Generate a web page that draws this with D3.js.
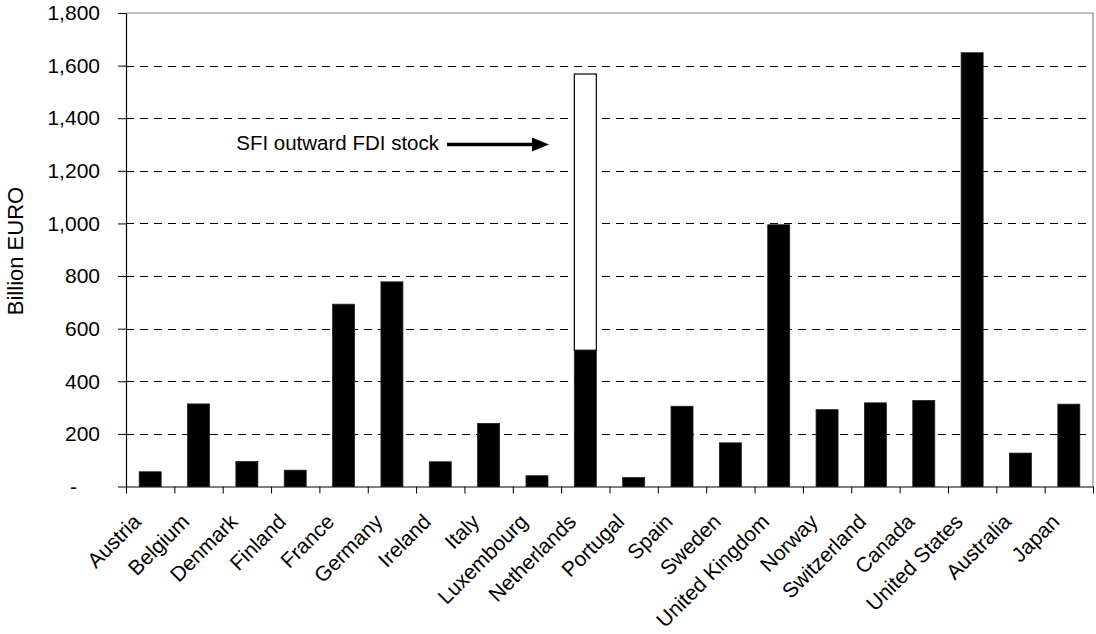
<!DOCTYPE html>
<html>
<head>
<meta charset="utf-8">
<script src="https://cdn.jsdelivr.net/npm/d3@7"></script>
<style>
  html, body { margin: 0; padding: 0; background: #fff; }
  svg { display: block; font-family: "Liberation Sans", Arial, sans-serif; }
</style>
</head>
<body>
<svg id="chart" width="1096" height="634"></svg>
<script>
// ---- Data (Billion EURO) ----
const categories = ["Austria","Belgium","Denmark","Finland","France","Germany","Ireland","Italy","Luxembourg","Netherlands","Portugal","Spain","Sweden","United Kingdom","Norway","Switzerland","Canada","United States","Australia","Japan"];
const outwardFDI = [56, 314, 95, 62, 693, 778, 94, 240, 41, 518, 34, 305, 166, 995, 292, 318, 327, 1649, 127, 313];
const sfiOutwardFDI = [0, 0, 0, 0, 0, 0, 0, 0, 0, 1050, 0, 0, 0, 0, 0, 0, 0, 0, 0, 0];
const yTicks = [0, 200, 400, 600, 800, 1000, 1200, 1400, 1600, 1800];
const yTitle = "Billion EURO";
const annotationText = "SFI outward FDI stock";

// ---- Layout ----
const pLeft = 126, pRight = 1093, pTop = 13, pBottom = 486.5;
const svg = d3.select("#chart");

const x = d3.scaleBand().domain(categories).range([pLeft, pRight]).paddingInner(0.545).paddingOuter(0.2725);
const xBound = d3.scaleLinear().domain([0, categories.length]).range([pLeft, pRight]);
const y = d3.scaleLinear().domain([0, 1800]).range([pBottom, pTop]);

// frame (top & right)
svg.append("path")
  .attr("d", `M${pLeft},${pTop}H${pRight}V${pBottom}`)
  .attr("fill", "none").attr("stroke", "#888").attr("stroke-width", 1.2);

// gridlines
svg.append("g").selectAll("line").data(yTicks.filter(d => d > 0 && d < 1800)).join("line")
  .attr("x1", pLeft).attr("x2", pRight - 6)
  .attr("y1", d => Math.round(y(d)) + 0.5).attr("y2", d => Math.round(y(d)) + 0.5)
  .attr("stroke", "#000").attr("stroke-width", 1).attr("stroke-dasharray", "8,6");

// bars - outward FDI (black)
svg.append("g").selectAll("rect").data(categories).join("rect")
  .attr("x", d => x(d)).attr("width", x.bandwidth())
  .attr("y", (d, i) => y(outwardFDI[i]))
  .attr("height", (d, i) => y(0) - y(outwardFDI[i]))
  .attr("fill", "#000").attr("stroke", "#222").attr("stroke-width", 0.8);

// bars - SFI outward FDI (white, stacked)
svg.append("g").selectAll("rect").data(categories.filter((d, i) => sfiOutwardFDI[i] > 0)).join("rect")
  .attr("x", d => x(d)).attr("width", x.bandwidth())
  .attr("y", d => { const i = categories.indexOf(d); return y(outwardFDI[i] + sfiOutwardFDI[i]); })
  .attr("height", d => { const i = categories.indexOf(d); return y(outwardFDI[i]) - y(outwardFDI[i] + sfiOutwardFDI[i]); })
  .attr("fill", "#fff").attr("stroke", "#000").attr("stroke-width", 1.2);

// y axis
const yAxis = d3.axisLeft(y).tickValues(yTicks).tickSize(8).tickSizeOuter(0).tickPadding(18)
  .tickFormat(d => d === 0 ? "-" : d3.format(",")(d));
const gy = svg.append("g").attr("transform", `translate(${pLeft},0)`).call(yAxis);
gy.select(".domain").attr("stroke", "#000").attr("stroke-width", 1.2);
gy.selectAll(".tick line").attr("stroke", "#000");
gy.selectAll(".tick text").attr("font-size", 21).attr("fill", "#000")
  .attr("font-family", "'Liberation Sans', Arial, sans-serif");
gy.selectAll(".tick text").filter(d => d === 0).attr("dx", -23);

// x axis (ticks between categories)
const xAxis = d3.axisBottom(xBound).tickValues(d3.range(categories.length + 1)).tickSize(7).tickSizeOuter(0).tickFormat("");
const gx = svg.append("g").attr("transform", `translate(0,${pBottom})`).call(xAxis);
gx.select(".domain").attr("stroke", "#000").attr("stroke-width", 1.2);
gx.selectAll(".tick line").attr("stroke", "#000");

// category labels
svg.append("g").selectAll("text").data(categories).join("text")
  .attr("transform", d => `translate(${x(d) + x.bandwidth() / 2 - 8},523) rotate(-45)`)
  .attr("text-anchor", "end")
  .attr("font-size", 21).attr("fill", "#000")
  .text(d => d);

// y title
svg.append("text")
  .attr("transform", "translate(23,251) rotate(-90)")
  .attr("text-anchor", "middle")
  .attr("font-size", 22).attr("fill", "#000")
  .text(yTitle);

// annotation
svg.append("text").attr("x", 439).attr("y", 150).attr("text-anchor", "end")
  .attr("font-size", 20.5).attr("fill", "#000").text(annotationText);
svg.append("line").attr("x1", 447).attr("x2", 534).attr("y1", 144.5).attr("y2", 144.5)
  .attr("stroke", "#000").attr("stroke-width", 3.5);
svg.append("path").attr("d", "M532,137.5L549,144.5L532,151.5Z").attr("fill", "#000");
</script>
</body>
</html>
